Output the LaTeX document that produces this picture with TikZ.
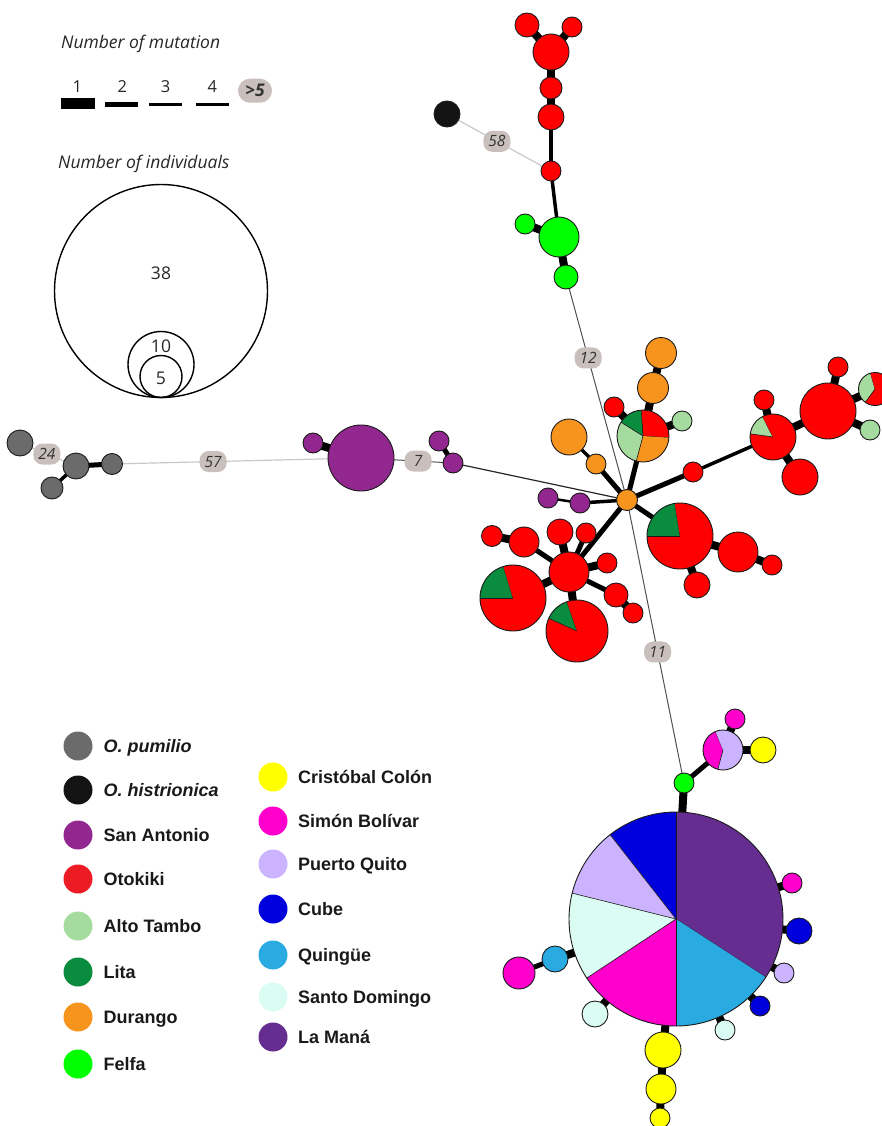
\documentclass[tikz,border=0pt]{standalone}
\usepackage{fontspec}
\setmainfont{Liberation Sans}
\newfontfamily\myr{Open Sans}
\usetikzlibrary{backgrounds}
\definecolor{outl}{HTML}{1A1A1A}
\definecolor{cRed}{HTML}{FF0000}
\definecolor{cRedL}{HTML}{ED1C24}
\definecolor{cGray}{HTML}{6B6B6B}
\definecolor{cBlack}{HTML}{141414}
\definecolor{cSA}{HTML}{92278F}
\definecolor{cAT}{HTML}{A6DB9F}
\definecolor{cLita}{HTML}{0A8C3F}
\definecolor{cDur}{HTML}{F7941D}
\definecolor{cFelfa}{HTML}{00FF00}
\definecolor{cCC}{HTML}{FFFF00}
\definecolor{cSB}{HTML}{FF00CC}
\definecolor{cPQ}{HTML}{CCB3FF}
\definecolor{cCube}{HTML}{0000DD}
\definecolor{cQui}{HTML}{29ABE2}
\definecolor{cSD}{HTML}{DBFCF2}
\definecolor{cLM}{HTML}{662D91}
\definecolor{labg}{HTML}{C9BFBC}
\definecolor{labt}{HTML}{333333}
\definecolor{lineL}{HTML}{C8C8C8}
\definecolor{lineD}{HTML}{505050}
\tikzset{
  hap/.style={circle,draw=outl,line width=0.9pt,inner sep=0pt},
  sliceline/.style={draw=outl,line width=0.6pt},
  w1/.style={draw=black,line width=8pt},
  w2/.style={draw=black,line width=5pt},
  w3/.style={draw=black,line width=3.5pt},
  w4/.style={draw=black,line width=2.5pt},
  lgline/.style={draw=lineL,line width=1.2pt},
  dkline/.style={draw=lineD,line width=1pt},
  mlabel/.style={fill=labg,rounded corners=9pt,minimum width=27pt,minimum height=21pt,inner sep=1pt,text=labt,font=\myr\itshape\fontsize{15.5}{16}\selectfont},
  legdot/.style={circle,inner sep=0pt,minimum size=29pt},
  legtext/.style={anchor=base west,inner sep=0pt,font=\bfseries\fontsize{18}{20}\selectfont,text=black!90},
  toptext/.style={anchor=base west,inner sep=0pt,font=\myr\itshape\fontsize{17.5}{20}\selectfont,text=black!85},
  numtext/.style={anchor=base,inner sep=0pt,font=\myr\fontsize{16.5}{18}\selectfont,text=black!85},
  ctext/.style={inner sep=0pt,font=\myr\fontsize{17.5}{18}\selectfont,text=black!85}
}
\newcommand\hp[5]{\node[hap,fill=#5,minimum size=#4pt] (#1) at (#2,#3) {};}
\newcommand\pieslice[6]{%
  \fill[#6] (#1,#2) -- ++(#4:#3pt) arc[start angle=#4,end angle=#5,radius=#3pt] -- cycle;
  \draw[sliceline] (#1,#2) -- ++(#4:#3pt);}
\begin{document}
\begin{tikzpicture}[x=1pt,y=1pt]
\useasboundingbox (0,0) rectangle (882,-1126);

% ---------- legend: mutations ----------
\node[toptext] (tmut) at (61,-48.5) {Number of mutation};
\node[numtext] (n1) at (77.3,-92.5) {1};
\node[numtext] (n2) at (122.3,-92.5) {2};
\node[numtext] (n3) at (165.7,-92.5) {3};
\node[numtext] (n4) at (212.3,-92.5) {4};
\fill[black] (61,-98.5) rectangle (94.5,-109);
\fill[black] (105,-101.7) rectangle (138.3,-107);
\fill[black] (149,-102.7) rectangle (182.3,-106);
\fill[black] (196,-103.3) rectangle (229.3,-106);
\node[mlabel,minimum width=34pt,minimum height=24pt,rounded corners=12pt,font=\myr\bfseries\itshape\fontsize{17.5}{18}\selectfont] (gt5) at (255,-90.7) {>5};

% ---------- legend: individuals ----------
\node[toptext] (tind) at (58,-168.3) {Number of individuals};
\node[circle,draw=black,line width=1.4pt,inner sep=0pt,minimum size=213pt] (c38) at (161,-291) {};
\node[circle,draw=black,line width=1.4pt,inner sep=0pt,minimum size=66pt] (c10) at (161,-364.5) {};
\node[circle,draw=black,line width=1.4pt,inner sep=0pt,minimum size=42pt] (c5) at (161,-376.5) {};
\node[ctext] (t38) at (161,-273) {38};
\node[ctext] (t10) at (161,-346) {10};
\node[ctext] (t5) at (161,-378) {5};

% ---------- top red / green cluster ----------
\hp{r1}{527}{-25}{24}{cRed}
\hp{r2}{572}{-27}{20}{cRed}
\hp{r3}{551}{-52}{36}{cRed}
\hp{r4}{551}{-88}{22}{cRed}
\hp{r5}{551}{-117}{26}{cRed}
\hp{r6}{551}{-171}{20}{cRed}
\hp{blk}{447}{-114}{26}{cBlack}
\hp{g1}{559}{-237}{40}{cFelfa}
\hp{g2}{525}{-224}{20}{cFelfa}
\hp{g3}{566}{-277}{24}{cFelfa}

% ---------- left: pumilio + San Antonio ----------
\hp{p1}{20}{-443}{26}{cGray}
\hp{p2}{76}{-466}{26}{cGray}
\hp{p3}{112}{-464}{21}{cGray}
\hp{p4}{52}{-488}{22}{cGray}
\hp{sa1}{361}{-458}{66}{cSA}
\hp{sa2}{313}{-443}{20}{cSA}
\hp{sa3}{439}{-441}{20}{cSA}
\hp{sa4}{453}{-463}{20}{cSA}

% ---------- hub cluster ----------
\hp{hub}{627}{-500}{21}{cDur}
\hp{sa5}{548}{-498}{20}{cSA}
\hp{sa6}{580}{-503}{20}{cSA}
\hp{o1}{596}{-464}{20}{cDur}
\hp{o2}{569}{-437}{36}{cDur}
\pieslice{643}{-436}{26}{-4}{94}{cRed}
\pieslice{643}{-436}{26}{94}{148}{cLita}
\pieslice{643}{-436}{26}{148}{255}{cAT}
\pieslice{643}{-436}{26}{255}{356}{cDur}
\node[hap,minimum size=52pt] (pie1) at (643,-436) {};
\hp{o3}{653}{-388}{31}{cDur}
\hp{o4}{661}{-353}{31}{cDur}
\hp{rA}{614}{-407}{20}{cRed}
\hp{lgA}{682}{-421}{20}{cAT}
\hp{rB}{693}{-472}{20}{cRed}
\pieslice{773}{-437}{23}{117}{172}{cAT}
\pieslice{773}{-437}{23}{172}{477}{cRed}
\node[hap,minimum size=46pt] (pie2) at (773,-437) {};
\hp{rC}{764}{-400}{20}{cRed}
\hp{bigR}{828}{-411}{56}{cRed}
\hp{rD}{800}{-477}{36}{cRed}
\hp{rE}{838}{-367}{20}{cRed}
\pieslice{875}{-389}{16.5}{106}{234}{cAT}
\pieslice{875}{-389}{16.5}{234}{466}{cRed}
\node[hap,minimum size=33pt] (pie3) at (875,-389) {};
\hp{lgB}{870}{-430}{20}{cAT}
\pieslice{680}{-536}{33}{99}{180}{cLita}
\pieslice{680}{-536}{33}{180}{459}{cRed}
\node[hap,minimum size=66pt] (pie4) at (680,-536) {};
\hp{rF}{738}{-552}{40}{cRed}
\hp{rG}{772}{-565}{20}{cRed}
\hp{rH}{697}{-585}{26}{cRed}
\hp{cc}{569}{-572}{40}{cRed}
\hp{rI}{560}{-532}{26}{cRed}
\hp{rJ}{586}{-533}{20}{cRed}
\hp{rK}{524}{-542}{30}{cRed}
\hp{rL}{492}{-536}{21}{cRed}
\pieslice{513}{-598}{33}{107}{180}{cLita}
\pieslice{513}{-598}{33}{180}{467}{cRed}
\node[hap,minimum size=66pt] (pie5) at (513,-598) {};
\pieslice{577}{-631}{31}{109}{156}{cLita}
\pieslice{577}{-631}{31}{156}{469}{cRed}
\node[hap,minimum size=62pt] (pie6) at (577,-631) {};
\hp{rM}{607}{-563}{20}{cRed}
\hp{rN}{616}{-595}{24}{cRed}
\hp{rO}{633}{-613}{20}{cRed}

% ---------- bottom cluster ----------
\hp{gF}{684}{-783}{20}{cFelfa}
\pieslice{723}{-750}{20}{112}{255}{cSB}
\pieslice{723}{-750}{20}{255}{472}{cPQ}
\node[hap,minimum size=40pt] (pie7) at (723,-750) {};
\hp{mA}{735}{-719}{20}{cSB}
\hp{yA}{763}{-750}{26}{cCC}
\pieslice{676}{-919}{107}{-33}{90}{cLM}
\pieslice{676}{-919}{107}{90}{128}{cCube}
\pieslice{676}{-919}{107}{128}{166}{cPQ}
\pieslice{676}{-919}{107}{166}{213.5}{cSD}
\pieslice{676}{-919}{107}{213.5}{270}{cSB}
\pieslice{676}{-919}{107}{270}{327}{cQui}
\node[hap,minimum size=214pt] (bp) at (676,-919) {};
\hp{mB}{792}{-883}{20}{cSB}
\hp{cuA}{799}{-931}{26}{cCube}
\hp{pqA}{784}{-973}{20}{cPQ}
\hp{cuB}{760}{-1006}{20}{cCube}
\hp{sdA}{725}{-1030}{20}{cSD}
\hp{sdB}{595}{-1014}{26}{cSD}
\hp{qA}{555}{-959}{26}{cQui}
\hp{mC}{519}{-973}{32}{cSB}
\hp{yB}{663}{-1050}{36}{cCC}
\hp{yC}{661}{-1089}{30}{cCC}
\hp{yD}{660}{-1118}{20}{cCC}

% ---------- connectors ----------
\begin{scope}[on background layer]
\draw[w1] (r1.center) -- (r3.center);
\draw[w1] (r2.center) -- (r3.center);
\draw[w1] (r3.center) -- (r4.center);
\draw[w1] (r4.center) -- (r5.center);
\draw[w3] (r5.center) -- (r6.center);
\draw[w3] (r6.center) -- (g1.center);
\draw[w1] (g2.center) -- (g1.center);
\draw[w1] (g1.center) -- (g3.center);
\draw[lgline] (blk.center) -- (r6.center) node[mlabel,pos=0.48] (l58) {58};
\draw[dkline] (g3.center) -- (hub.center) node[mlabel,pos=0.363] (l12) {12};
\draw[lgline] (p1.center) -- (p2.center) node[mlabel,pos=0.48] (l24) {24};
\draw[w2] (p2.center) -- (p3.center);
\draw[w3] (p2.center) -- (p4.center);
\draw[lgline] (p3.center) -- (sa1.center) node[mlabel,pos=0.406] (l57) {57};
\draw[w1] (sa2.center) -- (sa1.center);
\draw[dkline] (sa1.center) -- (sa4.center) node[mlabel,pos=0.62] (l7) {7};
\draw[w2] (sa3.center) -- (sa4.center);
\draw[draw=black!85,line width=1.2pt] (sa4.center) -- (hub.center);
\draw[w3] (hub.center) -- (sa6.center);
\draw[w4] (sa5.center) -- (sa6.center);
\draw[w2] (hub.center) -- (o1.center);
\draw[w3] (o1.center) -- (o2.center);
\draw[w2] (hub.center) -- (pie1.center);
\draw[w1] (pie1.center) -- (o3.center);
\draw[w1] (o3.center) -- (o4.center);
\draw[w1] (pie1.center) -- (rA.center);
\draw[w1] (pie1.center) -- (lgA.center);
\draw[w2] (hub.center) -- (rB.center);
\draw[w3] (rB.center) -- (pie2.center);
\draw[w1] (pie2.center) -- (rC.center);
\draw[w1] (pie2.center) -- (bigR.center);
\draw[w1] (pie2.center) -- (rD.center);
\draw[w1] (bigR.center) -- (rE.center);
\draw[w1] (bigR.center) -- (pie3.center);
\draw[w1] (bigR.center) -- (lgB.center);
\draw[w2] (hub.center) -- (pie4.center);
\draw[w1] (pie4.center) -- (rF.center);
\draw[w1] (rF.center) -- (rG.center);
\draw[w1] (pie4.center) -- (rH.center);
\draw[w2] (hub.center) -- (cc.center);
\draw[w1] (cc.center) -- (rI.center);
\draw[w2] (cc.center) -- (rJ.center);
\draw[w2] (cc.center) -- (rK.center);
\draw[w1] (rK.center) -- (rL.center);
\draw[w1] (cc.center) -- (pie5.center);
\draw[w1] (cc.center) -- (pie6.center);
\draw[w1] (cc.center) -- (rM.center);
\draw[w2] (cc.center) -- (rN.center);
\draw[w1] (rN.center) -- (rO.center);
\draw[dkline] (hub.center) -- (gF.center) node[mlabel,pos=0.537] (l11) {11};
\draw[w1] (gF.center) -- (bp.center);
\draw[w2] (gF.center) -- (pie7.center);
\draw[w1] (pie7.center) -- (mA.center);
\draw[w1] (pie7.center) -- (yA.center);
\draw[w1] (bp.center) -- (mB.center);
\draw[w1] (bp.center) -- (cuA.center);
\draw[w1] (bp.center) -- (pqA.center);
\draw[w1] (bp.center) -- (cuB.center);
\draw[w1] (bp.center) -- (sdA.center);
\draw[w1] (bp.center) -- (sdB.center);
\draw[w1] (bp.center) -- (qA.center);
\draw[w2] (qA.center) -- (mC.center);
\draw[w1] (bp.center) -- (yB.center);
\draw[w1] (yB.center) -- (yC.center);
\draw[w1] (yC.center) -- (yD.center);
\end{scope}

% ---------- colour legend ----------
\node[legdot,fill=cGray] (k1) at (78,-746) {};
\node[legtext] (kt1) at (103.5,-752.5) {\itshape O. pumilio};
\node[legdot,fill=cBlack] (k2) at (78,-790) {};
\node[legtext] (kt2) at (103.5,-796.5) {\itshape O. histrionica};
\node[legdot,fill=cSA] (k3) at (78,-835) {};
\node[legtext] (kt3) at (103.5,-841.5) {San Antonio};
\node[legdot,fill=cRedL] (k4) at (78,-879) {};
\node[legtext] (kt4) at (103.5,-885.5) {Otokiki};
\node[legdot,fill=cAT] (k5) at (78,-926) {};
\node[legtext] (kt5) at (103.5,-932.5) {Alto Tambo};
\node[legdot,fill=cLita] (k6) at (78,-972) {};
\node[legtext] (kt6) at (103.5,-978.5) {Lita};
\node[legdot,fill=cDur] (k7) at (78,-1017) {};
\node[legtext] (kt7) at (103.5,-1023.5) {Durango};
\node[legdot,fill=cFelfa] (k8) at (78,-1064) {};
\node[legtext] (kt8) at (103.5,-1070.5) {Felfa};
\node[legdot,fill=cCC] (k9) at (273,-777) {};
\node[legtext] (kt9) at (298,-783.5) {Cristóbal Colón};
\node[legdot,fill=cSB] (k10) at (273,-821) {};
\node[legtext] (kt10) at (298,-827.5) {Simón Bolívar};
\node[legdot,fill=cPQ] (k11) at (273,-864) {};
\node[legtext] (kt11) at (298,-870.5) {Puerto Quito};
\node[legdot,fill=cCube] (k12) at (273,-909) {};
\node[legtext] (kt12) at (298,-915.5) {Cube};
\node[legdot,fill=cQui] (k13) at (273,-955) {};
\node[legtext] (kt13) at (298,-961.5) {Quingüe};
\node[legdot,fill=cSD] (k14) at (273,-997) {};
\node[legtext] (kt14) at (298,-1003.5) {Santo Domingo};
\node[legdot,fill=cLM] (k15) at (273,-1037) {};
\node[legtext] (kt15) at (298,-1043.5) {La Maná};
\end{tikzpicture}
\end{document}
